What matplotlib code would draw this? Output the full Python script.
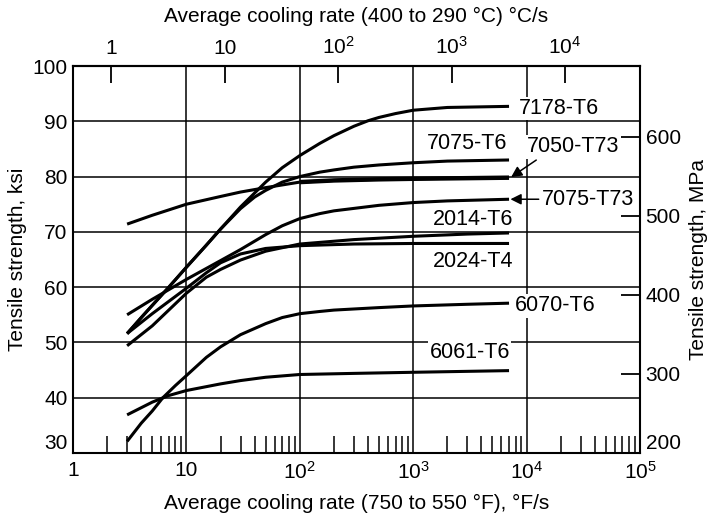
import numpy as np
import matplotlib.pyplot as plt
from matplotlib.ticker import FixedLocator, NullLocator, LogLocator

plt.rcParams['font.family'] = ['Liberation Sans', 'DejaVu Sans']
plt.rcParams['mathtext.fontset'] = 'custom'
plt.rcParams['mathtext.rm'] = 'Liberation Sans'

# ---- data (x in F/s, y in ksi) ----
x_7178_T6 = [3, 4, 5, 7, 10, 15, 20, 30, 50, 70, 100, 150, 200, 300, 400, 500, 700, 1000, 2000, 7000]
y_7178_T6 = [51.6, 54.5, 56.7, 60.0, 63.6, 67.6, 70.5, 74.5, 79.0, 81.6, 83.8, 86.0, 87.4, 89.1, 90.1, 90.7, 91.4, 92.0, 92.5, 92.7]

x_7075_T6 = [3, 4, 5, 7, 10, 15, 20, 30, 40, 50, 70, 100, 150, 200, 300, 500, 1000, 2000, 7000]
y_7075_T6 = [51.6, 54.5, 56.7, 60.0, 63.6, 67.6, 70.5, 74.2, 76.3, 77.5, 79.0, 80.0, 80.8, 81.2, 81.7, 82.1, 82.5, 82.8, 83.0]

x_7050_T73 = [3, 5, 10, 20, 30, 50, 100, 200, 500, 1000, 7000]
y_7050_T73 = [71.4, 73.0, 75.0, 76.4, 77.2, 78.0, 79.0, 79.3, 79.5, 79.6, 79.8]

x_7075_T73 = [3, 5, 10, 20, 30, 50, 70, 100, 150, 200, 500, 1000, 2000, 7000]
y_7075_T73 = [55.0, 57.8, 61.4, 64.8, 66.8, 69.5, 71.1, 72.4, 73.3, 73.8, 74.8, 75.3, 75.6, 75.9]

x_2014_T6 = [3, 5, 10, 15, 20, 30, 50, 100, 300, 1000, 3000, 7000]
y_2014_T6 = [49.4, 53.0, 58.9, 61.8, 63.2, 64.9, 66.5, 67.8, 68.6, 69.2, 69.6, 69.8]

x_2024_T4 = [3, 5, 10, 15, 20, 30, 50, 100, 300, 1000, 7000]
y_2024_T4 = [51.6, 55.2, 59.8, 62.6, 64.4, 66.0, 67.0, 67.5, 67.8, 67.9, 67.9]

x_6070_T6 = [3, 4, 5, 6.2, 8, 10, 15, 20, 30, 50, 70, 100, 150, 200, 500, 1000, 3000, 7000]
y_6070_T6 = [32.1, 35.4, 37.6, 40.0, 42.2, 44.0, 47.3, 49.2, 51.4, 53.4, 54.5, 55.2, 55.6, 55.85, 56.3, 56.6, 56.9, 57.1]

x_6061_T6 = [3, 5, 7, 10, 20, 30, 50, 100, 300, 1000, 7000]
y_6061_T6 = [36.9, 39.2, 40.4, 41.3, 42.5, 43.1, 43.7, 44.2, 44.4, 44.6, 44.9]

curves = [(x_7178_T6, y_7178_T6), (x_7075_T6, y_7075_T6), (x_7050_T73, y_7050_T73),
          (x_7075_T73, y_7075_T73), (x_2014_T6, y_2014_T6), (x_2024_T4, y_2024_T4),
          (x_6070_T6, y_6070_T6), (x_6061_T6, y_6061_T6)]

ksi_ticks = [30, 40, 50, 60, 70, 80, 90, 100]
mpa_ticks = [200, 300, 400, 500, 600]
f_ticks = [1, 10, 100, 1000, 1e4, 1e5]
f_labels = ['1', '10', r'$\mathregular{10^2}$', r'$\mathregular{10^3}$', r'$\mathregular{10^4}$', r'$\mathregular{10^5}$']
c_ticks = [1, 10, 100, 1000, 1e4]
c_labels = ['1', '10', r'$\mathregular{10^2}$', r'$\mathregular{10^3}$', r'$\mathregular{10^4}$']

MPA_PER_KSI = 6.895
F_PER_C = 2.18   # offset of the top scale as drawn in the reference

# label placement (left edge x, centre y)
label_pos = {
    '7178-T6': (8500, 92.3),
    '7075-T6': (1320, 86.0),
    '2014-T6': (1480, 72.3),
    '2024-T4': (1500, 64.7),
    '6070-T6': (7900, 56.6),
    '6061-T6': (1400, 48.1),
}

TICK_FS = 15
LABEL_FS = 15.5
TITLE_FS = 15

fig = plt.figure(figsize=(7.17, 5.22), dpi=100)
ax = fig.add_axes([73/717, 69/522, 567/717, 387/522])

ax.set_xscale('log')
ax.set_xlim(1, 1e5)
ax.set_ylim(30, 100)

for (xs, ys) in curves:
    ax.plot(xs, ys, color='black', lw=2.2, zorder=3, solid_capstyle='butt')
# 7050-T73 is drawn heavier in the original
ax.plot(x_7050_T73[6:], y_7050_T73[6:], color='black', lw=3.2, zorder=3, solid_capstyle='butt')

ax.grid(True, which='major', color='black', lw=1.1, zorder=1)

ax.xaxis.set_major_locator(FixedLocator(f_ticks))
ax.set_xticklabels(f_labels)
ax.xaxis.set_minor_locator(LogLocator(base=10, subs=np.arange(2, 10), numticks=20))
ax.tick_params(axis='x', which='major', length=0, pad=6, labelsize=TICK_FS)
ax.tick_params(axis='x', which='minor', direction='in', length=12, width=1.1)
ax.set_yticks(ksi_ticks)
ax.tick_params(axis='y', length=0, pad=4, labelsize=TICK_FS)
ax.get_yticklabels()[0].set_va('bottom')

for s in ax.spines.values():
    s.set_linewidth(1.5)

ax.set_xlabel('Average cooling rate (750 to 550 °F), °F/s', fontsize=TITLE_FS, labelpad=8)
ax.set_ylabel('Tensile strength, ksi', fontsize=TITLE_FS, labelpad=4)

# right MPa scale
ax2 = ax.twinx()
ax2.set_ylim(200, 100 * MPA_PER_KSI)
ax2.set_yticks(mpa_ticks)
ax2.tick_params(axis='y', direction='in', length=14, width=1.3, pad=4, labelsize=TICK_FS)
ax2.get_yticklabels()[0].set_va('bottom')
ax2.set_ylabel('Tensile strength, MPa', fontsize=TITLE_FS, labelpad=6)
for s in ax2.spines.values():
    s.set_visible(False)

# top C/s scale
secax = ax.secondary_xaxis('top', functions=(lambda x: x / F_PER_C, lambda x: x * F_PER_C))
secax.xaxis.set_major_locator(FixedLocator(c_ticks))
secax.set_xticklabels(c_labels)
secax.xaxis.set_minor_locator(NullLocator())
secax.tick_params(axis='x', direction='in', length=12, width=1.3, pad=6, labelsize=TICK_FS)
secax.spines['top'].set_linewidth(1.5)
secax.set_xlabel('Average cooling rate (400 to 290 °C) °C/s', fontsize=TITLE_FS, labelpad=10)

box = dict(facecolor='white', edgecolor='none', pad=1)
for name, (lx, ly) in label_pos.items():
    ax.text(lx, ly, name, fontsize=LABEL_FS, ha='left', va='center', bbox=box, zorder=4)

ax.annotate('7050-T73', xy=(7300, 79.9), xytext=(10000, 85.4), fontsize=LABEL_FS,
            ha='left', va='center', bbox=box, zorder=4,
            arrowprops=dict(arrowstyle='-|>', color='black', lw=1.1,
                            mutation_scale=16, relpos=(0.15, 0.0), shrinkA=2, shrinkB=0))
ax.annotate('7075-T73', xy=(7200, 75.9), xytext=(13500, 75.9), fontsize=LABEL_FS,
            ha='left', va='center', bbox=box, zorder=4,
            arrowprops=dict(arrowstyle='-|>', color='black', lw=1.1,
                            mutation_scale=16, relpos=(0.0, 0.5), shrinkA=1, shrinkB=0))

fig.savefig('out.png', dpi=100)
